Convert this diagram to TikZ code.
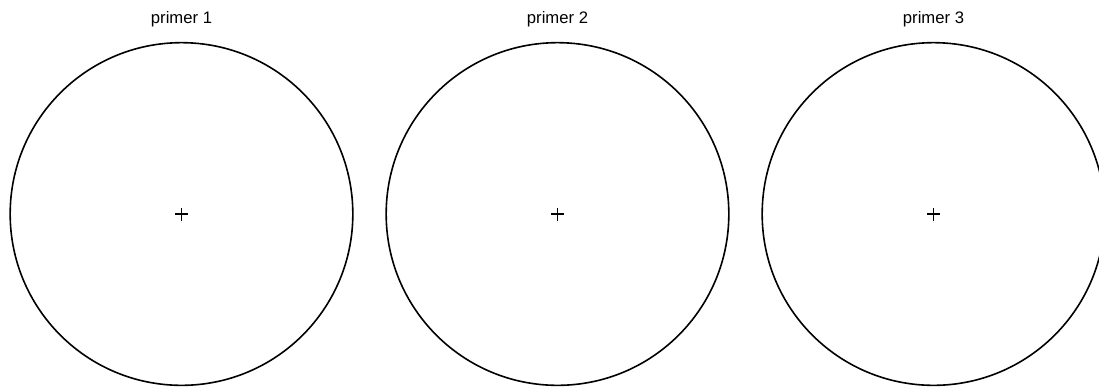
\documentclass[tikz,border=0pt]{standalone}
\usepackage{fontspec}
\setmainfont{Liberation Sans}
\usetikzlibrary{positioning}

\begin{document}
\begin{tikzpicture}[x=0.75pt, y=-0.75pt, every node/.style={font=\fontsize{12.5}{14}\selectfont}]
\tikzset{ring/.style={draw, circle, line width=1.2pt, minimum size=257pt, inner sep=0pt}}
\tikzset{crosshair/.style={line width=0.9pt}}
\tikzset{heading/.style={inner sep=0pt, anchor=base}}
\useasboundingbox (0,0) rectangle (1099,387);
\clip (0,0) rectangle (1099,387);
\node[ring] (ring1) at (181.5,214) {};
\node[ring] (ring2) at (557.5,214) {};
\node[ring] (ring3) at (933.5,214) {};
\node[heading] (title1) at (181.5,23) {primer 1};
\node[heading] (title2) at (557.5,23) {primer 2};
\node[heading] (title3) at (933.5,23) {primer 3};
% centre marks
\draw[crosshair] (ring1.center) ++(-6.5,0) -- ++(13,0) (ring1.center) ++(0,-6.5) -- ++(0,13);
\draw[crosshair] (ring2.center) ++(-6.5,0) -- ++(13,0) (ring2.center) ++(0,-6.5) -- ++(0,13);
\draw[crosshair] (ring3.center) ++(-6.5,0) -- ++(13,0) (ring3.center) ++(0,-6.5) -- ++(0,13);
\end{tikzpicture}
\end{document}
